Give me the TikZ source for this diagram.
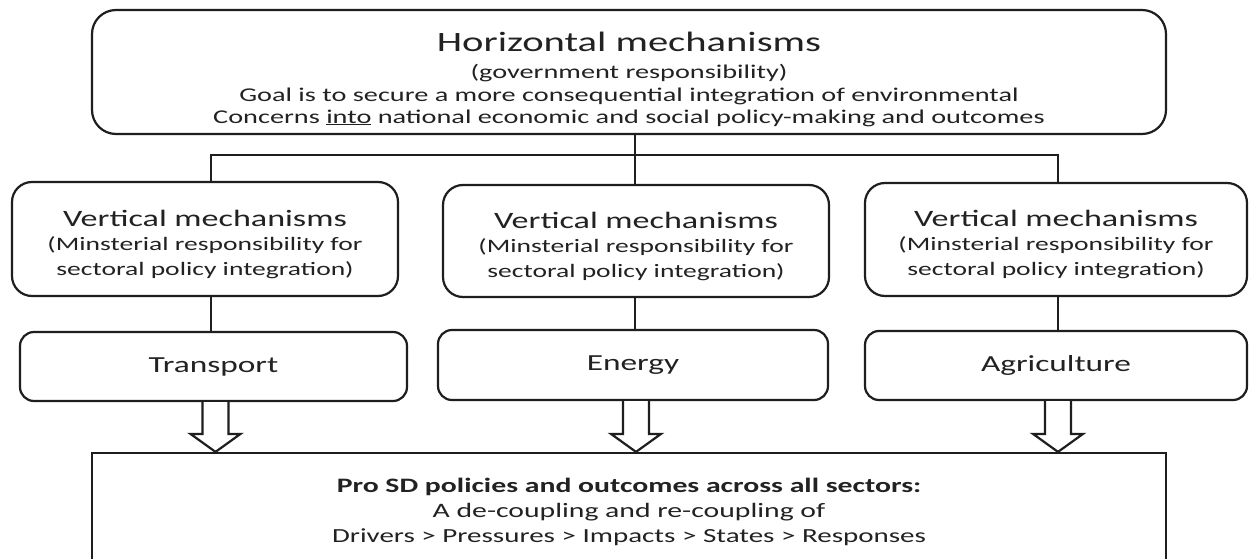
\documentclass[tikz,border=0pt]{standalone}
\usepackage{fontspec}
\setmainfont{Carlito}[FakeStretch=1.45]
\usetikzlibrary{calc}
\definecolor{ink}{HTML}{1E1E1E}
\definecolor{txt}{HTML}{222222}
\tikzset{
  rbox/.style={draw=ink, line width=2.2pt, rounded corners=#1, inner sep=0pt},
  sqbox/.style={draw=ink, line width=2.2pt, inner sep=0pt},
  conn/.style={draw=ink, line width=2.2pt},
  harrow/.style={draw=ink, line width=2.2pt, fill=white, line join=miter},
  lbl/.style={text=txt, inner sep=0pt, anchor=center}
}
\begin{document}
\begin{tikzpicture}[x=1pt,y=-1pt]
\clip (0,0) rectangle (1250,559);
\fill[white] (0,0) rectangle (1250,559);
% boxes
\node[rbox=24pt, minimum width=1074pt, minimum height=124pt] (top) at (629,72) {};
\node[rbox=20pt, minimum width=386pt, minimum height=114pt] (v1) at (205,239) {};
\node[rbox=20pt, minimum width=386pt, minimum height=112pt] (v2) at (636,241) {};
\node[rbox=20pt, minimum width=382pt, minimum height=113pt] (v3) at (1056,239.5) {};
\node[rbox=14pt, minimum width=387pt, minimum height=69pt] (s1) at (213.5,366.5) {};
\node[rbox=14pt, minimum width=390pt, minimum height=70pt] (s2) at (633,365) {};
\node[rbox=14pt, minimum width=382pt, minimum height=69pt] (s3) at (1056,365.5) {};
\node[sqbox, minimum width=1074pt, minimum height=130pt] (bot) at (629,518) {};
% x positions of connectors
\coordinate (c1) at (211,155);
\coordinate (c2) at (635,155);
\coordinate (c3) at (1058,155);
\coordinate (a1) at (215.5,0);
\coordinate (a2) at (636,0);
\coordinate (a3) at (1058,0);
% tree connectors
\draw[conn] (top.south -| c2) -- (v2.north -| c2);
\draw[conn] (v1.north -| c1) -- (c1) -- (c3) -- (v3.north -| c3);
\draw[conn] (v1.south -| c1) -- (s1.north -| c1);
\draw[conn] (v2.south -| c2) -- (s2.north -| c2);
\draw[conn] (v3.south -| c3) -- (s3.north -| c3);
% hollow arrows
\foreach \s/\a in {s1/a1,s2/a2,s3/a3}{
  \draw[harrow] ($(\s.south -| \a)+(-13,0)$) -- ($(bot.north -| \a)+(-13,-18)$)
    -- ($(bot.north -| \a)+(-25,-18)$) -- (bot.north -| \a)
    -- ($(bot.north -| \a)+(25,-18)$) -- ($(bot.north -| \a)+(13,-18)$)
    -- ($(\s.south -| \a)+(13,0)$);
}
% top texts
\node[lbl, font=\fontsize{28}{32}\selectfont] (h1) at (629,42) {Horizontal mechanisms};
\node[lbl, font=\fontsize{19.5}{23}\selectfont] (h2) at (629,73) {(government responsibility)};
\node[lbl, font=\fontsize{19.5}{23}\selectfont] (h3) at (629,96) {Goal is to secure a more consequential integration of environmental};
\node[lbl, font=\fontsize{19.5}{23}\selectfont] (h4) at (629,118) {Concerns \underline{into} national economic and social policy-making and outcomes};
% vertical box texts
\foreach \v in {1,2,3}{
  \node[lbl, font=\fontsize{23.5}{28}\selectfont] (vt\v) at ($(v\v.center)+(0,-21)$) {Vertical mechanisms};
  \node[lbl, font=\fontsize{19}{23}\selectfont] (vs\v) at ($(v\v.center)+(0,6)$) {(Minsterial responsibility for};
  \node[lbl, font=\fontsize{19}{23}\selectfont] (vu\v) at ($(v\v.center)+(0,31)$) {sectoral policy integration)};
}
% sector texts
\node[lbl, font=\fontsize{23}{27}\selectfont] (tt) at (s1.center) {Transport};
\node[lbl, font=\fontsize{23}{27}\selectfont] (te) at (s2.center) {Energy};
\node[lbl, font=\fontsize{23}{27}\selectfont] (ta) at (s3.center) {Agriculture};
% bottom texts
\node[lbl, font=\bfseries\fontsize{20.5}{24}\selectfont] (b1) at (629,487) {Pro SD policies and outcomes across all sectors:};
\node[lbl, font=\fontsize{20.5}{24}\selectfont] (b2) at (629,512) {A de-coupling and re-coupling of};
\node[lbl, font=\fontsize{20}{24}\selectfont] (b3) at (629,537) {Drivers > Pressures > Impacts > States > Responses};
\end{tikzpicture}
\end{document}
